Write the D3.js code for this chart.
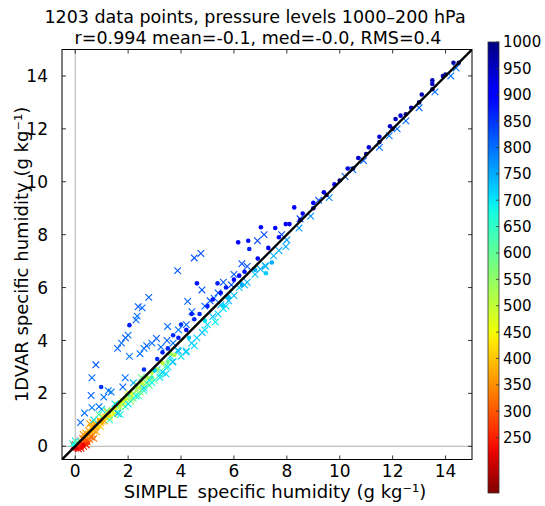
<!DOCTYPE html>
<html>
<head>
<meta charset="utf-8">
<script src="https://cdn.jsdelivr.net/npm/d3@7"></script>
<style>
	body { margin: 0; background: #fff; }
	svg text { font-family: 'DejaVu Sans', sans-serif; fill: #000; }
</style>
</head>
<body>
<svg id="chart"></svg>
<script>
// [SIMPLE q, 1DVAR q, pressure hPa]
const crossPoints = [
	// red, near zero
	[0.05, -0.05, 250], [0.1, 0.0, 230], [0.15, 0.05, 270], [0.2, 0.02, 300], [0.25, 0.1, 260],
	[0.3, 0.12, 280], [0.35, 0.15, 310], [0.4, 0.2, 290], [0.45, 0.18, 320], [0.5, 0.3, 300],
	[0.55, 0.25, 330], [0.6, 0.35, 310], [0.12, -0.1, 220], [0.22, -0.08, 240], [0.32, 0.0, 260],
	[0.0, 0.05, 210], [-0.05, 0.02, 230], [0.65, 0.45, 340], [0.7, 0.3, 320], [0.28, 0.3, 300],
	[0.18, 0.2, 280], [0.42, 0.05, 250], [-0.1, 0.1, 650], [0.0, 0.2, 700], [0.05, 0.15, 600],
	// orange
	[0.4, 0.5, 380], [0.5, 0.6, 360], [0.6, 0.7, 400], [0.7, 0.6, 380], [0.75, 0.85, 390],
	[0.85, 0.8, 410], [0.9, 1.0, 370], [1.0, 0.95, 400], [1.05, 1.1, 420], [1.15, 1.1, 390],
	[0.3, 0.45, 350], [0.55, 0.85, 360], [0.95, 0.75, 410], [1.2, 1.3, 400], [0.65, 0.9, 380],
	[0.8, 0.55, 370], [1.3, 1.2, 420], [0.45, 0.35, 350], [0.95, 0.9, 380], [1.1, 0.95, 360],
	[0.75, 0.7, 350], [1.4, 1.35, 430], [1.6, 1.55, 440],
	// yellow
	[1.3, 1.1, 470], [1.4, 1.3, 480], [1.5, 1.4, 500], [1.6, 1.5, 460], [1.7, 1.5, 520],
	[1.8, 1.7, 490], [1.9, 1.7, 510], [2.0, 1.9, 480], [2.1, 1.8, 530], [2.2, 2.0, 500],
	[2.3, 2.1, 540], [2.4, 2.2, 510], [2.5, 2.3, 520], [2.6, 2.3, 550], [1.45, 1.2, 460],
	[1.75, 1.6, 480], [2.05, 2.0, 470], [2.35, 2.3, 500], [2.7, 2.4, 540], [2.8, 2.6, 520],
	// green
	[1.6, 1.3, 620], [1.9, 1.5, 640], [2.2, 1.8, 600], [2.4, 1.9, 630], [2.6, 2.1, 650],
	[2.8, 2.3, 620], [3.0, 2.5, 600], [3.2, 2.7, 640], [1.2, 1.35, 600], [0.9, 1.2, 620],
	[2.5, 2.6, 590], [3.4, 3.0, 610], [2.1, 1.7, 580], [2.45, 2.05, 570], [2.75, 2.35, 590],
	// cyan, below the line
	[3.3, 2.8, 720], [3.5, 3.0, 700], [3.7, 3.2, 730], [3.6, 3.4, 710], [3.9, 3.6, 740],
	[4.2, 3.6, 720], [4.0, 3.4, 700], [4.4, 3.9, 730], [4.6, 4.1, 720], [4.8, 4.3, 740],
	[5.0, 4.6, 710], [5.2, 4.9, 730], [5.4, 5.0, 720], [5.6, 5.2, 700], [5.8, 5.5, 740],
	[6.0, 5.7, 730], [6.2, 6.0, 720], [6.5, 6.2, 740], [6.8, 6.5, 730], [7.2, 6.8, 750],
	[7.5, 7.2, 740], [7.96, 7.55, 750], [8.46, 8.25, 760], [4.9, 4.4, 700], [5.3, 4.7, 690],
	[2.8, 2.5, 700], [3.1, 2.9, 690], [4.5, 3.8, 710], [1.5, 1.6, 700], [1.0, 1.4, 720],
	[0.7, 1.0, 700], [2.2, 2.4, 740], [5.7, 5.3, 710], [1.61, 1.24, 760], [3.68, 3.18, 720],
	[3.43, 2.74, 710], [3.87, 3.62, 730], [4.19, 3.56, 720], [7.18, 6.83, 740],
	[1.7, 1.2, 680], [2.0, 1.6, 700], [2.3, 1.9, 690], [2.6, 2.2, 710], [2.9, 2.4, 680],
	[3.2, 2.6, 700], [1.3, 1.0, 650], [5.5, 5.35, 740], [6.4, 6.1, 730], [7.0, 6.7, 740],
	[7.7, 7.4, 750], [8.0, 7.8, 760], [8.9, 8.7, 770], [9.6, 9.4, 780],
	// blue, mostly above the line
	[0.35, 1.26, 800], [0.63, 1.46, 790], [0.6, 1.92, 810], [0.63, 2.59, 800], [0.78, 3.08, 820],
	[1.08, 1.86, 800], [1.36, 2.05, 790], [1.8, 2.24, 810], [1.89, 2.59, 800], [1.6, 3.7, 810],
	[1.75, 3.9, 800], [1.9, 4.1, 820], [2.0, 4.2, 800], [2.05, 3.4, 790], [2.3, 4.78, 810],
	[2.34, 4.92, 800], [2.38, 5.28, 820], [2.53, 5.23, 800], [2.78, 5.63, 810], [2.45, 3.5, 800],
	[2.6, 3.7, 790], [2.7, 3.8, 810], [2.9, 3.9, 800], [3.07, 4.08, 820], [3.24, 3.75, 800],
	[3.47, 4.0, 810], [3.49, 4.53, 800], [3.87, 6.64, 820], [4.5, 7.12, 830], [4.75, 7.29, 830],
	[4.25, 5.48, 810], [4.41, 5.09, 800], [4.79, 5.91, 820], [4.9, 5.3, 810], [5.1, 5.5, 820],
	[5.25, 5.6, 800], [5.4, 5.8, 820], [6.89, 7.77, 840], [7.14, 8.0, 830], [5.9, 6.1, 830],
	[6.5, 6.8, 820], [7.8, 8.0, 830], [8.5, 8.6, 840], [9.2, 9.3, 830], [10.2, 10.2, 820],
	[10.5, 10.45, 800], [10.9, 10.8, 810], [11.5, 11.3, 800], [11.87, 11.74, 790], [12.17, 12.0, 800],
	[12.5, 12.3, 800], [13.0, 12.8, 810], [13.6, 13.4, 800], [14.2, 14.0, 790], [14.4, 14.3, 800],
	[1.25, 2.1, 790], [0.9, 1.5, 800], [0.2, 0.9, 810], [3.7, 3.9, 800], [3.9, 4.4, 800],
	[4.2, 4.6, 810], [5.6, 6.2, 820], [6.0, 6.5, 810], [6.3, 6.9, 830]
];

const dotPoints = [
	[0.08, 0.0, 240], [0.18, 0.08, 260], [0.3, 0.05, 220], [0.38, 0.22, 300], [0.48, 0.12, 270],
	[0.02, -0.08, 210], [0.25, -0.05, 230], [-0.05, 0.05, 680],
	[0.35, 0.4, 370], [0.6, 0.55, 390], [0.8, 0.75, 400], [1.0, 0.9, 380], [1.1, 1.05, 410],
	[0.5, 0.5, 360], [1.25, 1.15, 420],
	[1.5, 1.45, 470], [1.7, 1.65, 490], [1.9, 1.8, 500], [2.1, 2.0, 480], [2.3, 2.25, 520],
	[2.5, 2.4, 500], [2.7, 2.6, 530], [2.9, 2.8, 510], [3.1, 2.9, 540], [3.6, 3.5, 530],
	[3.75, 3.45, 520], [3.3, 3.15, 500],
	[2.0, 1.95, 610], [2.9, 2.6, 630], [3.5, 3.2, 600],
	[3.0, 2.87, 720], [5.8, 5.63, 730], [6.8, 6.67, 740], [7.21, 6.54, 720], [7.43, 6.95, 750],
	[4.9, 4.75, 700], [4.3, 4.1, 720], [6.3, 6.1, 750], [5.6, 5.3, 710],
	[0.98, 2.24, 850], [2.05, 4.58, 870], [4.6, 6.16, 880], [5.38, 6.16, 870], [6.16, 7.71, 890],
	[6.54, 7.77, 880], [6.58, 7.46, 870], [7.02, 8.28, 900], [7.56, 8.25, 890], [8.28, 9.03, 900],
	[7.96, 8.4, 890], [3.5, 3.7, 860], [3.9, 4.1, 870], [4.2, 4.4, 880], [4.5, 4.8, 860],
	[5.0, 5.3, 870], [5.5, 5.8, 880], [6.0, 6.3, 890], [6.4, 6.6, 880], [6.9, 7.1, 900],
	[7.3, 7.5, 890], [7.7, 7.9, 910], [8.1, 8.4, 900], [8.6, 8.8, 920], [9.0, 9.2, 910],
	[9.4, 9.6, 930], [9.8, 9.9, 920], [10.3, 10.5, 930], [10.7, 10.9, 940], [11.1, 11.3, 930],
	[11.5, 11.7, 940], [11.9, 12.1, 950], [12.11, 12.37, 950], [12.3, 12.5, 940], [12.7, 12.8, 950],
	[13.1, 13.3, 960], [13.5, 13.84, 960], [13.5, 13.7, 950], [13.9, 14.0, 960], [14.3, 14.5, 970],
	[2.6, 2.9, 850], [3.1, 3.3, 860], [3.3, 3.55, 870], [4.7, 5.0, 860], [5.2, 5.55, 880],
	[5.7, 6.0, 870], [6.2, 6.45, 890], [3.7, 4.2, 860], [4.0, 4.6, 850], [4.4, 5.0, 870],
	[8.5, 8.55, 970], [9.0, 9.0, 980], [9.5, 9.5, 980], [10.0, 10.05, 990], [10.5, 10.5, 1000],
	[11.0, 11.05, 990], [11.5, 11.5, 980], [12.0, 12.0, 1000], [12.5, 12.55, 990], [13.0, 13.0, 1000],
	[13.5, 13.5, 990], [14.0, 14.05, 1000], [14.5, 14.5, 980]
];

const axisTicks = [0, 2, 4, 6, 8, 10, 12, 14];
const colorTicks = [250, 300, 350, 400, 450, 500, 550, 600, 650, 700, 750, 800, 850, 900, 950, 1000];
const titleLines = [
	'1203 data points, pressure levels 1000\u2013200 hPa',
	'r=0.994 mean=-0.1, med=-0.0, RMS=0.4'
];

const W = 545, H = 506;
const plot = { left: 62, right: 472, top: 49.5, bottom: 459.5 };
const cbar = { x: 488, w: 11, top: 42, bottom: 493 };

const svg = d3.select('#chart').attr('width', W).attr('height', H);

const x = d3.scaleLinear().domain([-0.5, 15]).range([plot.left, plot.right]);
const y = d3.scaleLinear().domain([-0.5, 15]).range([plot.bottom, plot.top]);

// matplotlib "jet" segment data
const jetR = d3.scaleLinear().domain([0, 0.35, 0.66, 0.89, 1]).range([0, 0, 1, 1, 0.5]).clamp(true);
const jetG = d3.scaleLinear().domain([0, 0.125, 0.375, 0.64, 0.91, 1]).range([0, 0, 1, 1, 0, 0]).clamp(true);
const jetB = d3.scaleLinear().domain([0, 0.11, 0.34, 0.65, 1]).range([0.5, 1, 1, 0, 0]).clamp(true);
const jet = (t) => d3.rgb(jetR(t) * 255, jetG(t) * 255, jetB(t) * 255).toString();

// reversed: high pressure blue, low pressure red
const pScale = d3.scaleLinear().domain([1000, 145]).range([0, 1]).clamp(true);
const pColor = (p) => jet(pScale(p));

// zero lines
svg.append('line')
	.attr('x1', x(0)).attr('x2', x(0)).attr('y1', plot.top).attr('y2', plot.bottom)
	.attr('stroke', '#b0b0b0').attr('stroke-width', 1);
svg.append('line')
	.attr('x1', plot.left).attr('x2', plot.right).attr('y1', y(0)).attr('y2', y(0))
	.attr('stroke', '#b0b0b0').attr('stroke-width', 1);

svg.append('clipPath').attr('id', 'plot-clip')
	.append('rect')
	.attr('x', plot.left).attr('y', plot.top)
	.attr('width', plot.right - plot.left).attr('height', plot.bottom - plot.top);

const marks = svg.append('g').attr('clip-path', 'url(#plot-clip)');

const cs = 3.3; // cross half size
marks.selectAll('.cross')
	.data(crossPoints)
	.join('path')
	.attr('class', 'cross')
	.attr('d', (d) => {
		const cx = x(d[0]), cy = y(d[1]);
		return `M${cx - cs},${cy - cs}L${cx + cs},${cy + cs}M${cx - cs},${cy + cs}L${cx + cs},${cy - cs}`;
	})
	.attr('fill', 'none')
	.attr('stroke', (d) => pColor(d[2]))
	.attr('stroke-width', 1.1);

marks.selectAll('.dot')
	.data(dotPoints)
	.join('circle')
	.attr('class', 'dot')
	.attr('cx', (d) => x(d[0]))
	.attr('cy', (d) => y(d[1]))
	.attr('r', 2.3)
	.attr('fill', (d) => pColor(d[2]));

// 1:1 line
marks.append('line')
	.attr('x1', x(-0.5)).attr('y1', y(-0.5))
	.attr('x2', x(15)).attr('y2', y(15))
	.attr('stroke', '#000').attr('stroke-width', 2.3);

// frame
svg.append('rect')
	.attr('x', plot.left).attr('y', plot.top)
	.attr('width', plot.right - plot.left).attr('height', plot.bottom - plot.top)
	.attr('fill', 'none').attr('stroke', '#000').attr('stroke-width', 1);

// inward ticks on all four sides
const tickG = svg.append('g').attr('stroke', '#000').attr('stroke-width', 0.8);
axisTicks.forEach((t) => {
	tickG.append('line').attr('x1', x(t)).attr('x2', x(t)).attr('y1', plot.bottom).attr('y2', plot.bottom - 4);
	tickG.append('line').attr('x1', x(t)).attr('x2', x(t)).attr('y1', plot.top).attr('y2', plot.top + 4);
	tickG.append('line').attr('y1', y(t)).attr('y2', y(t)).attr('x1', plot.left).attr('x2', plot.left + 4);
	tickG.append('line').attr('y1', y(t)).attr('y2', y(t)).attr('x1', plot.right).attr('x2', plot.right - 4);
});

svg.append('g').selectAll('text')
	.data(axisTicks)
	.join('text')
	.attr('x', (d) => x(d))
	.attr('y', 477)
	.attr('text-anchor', 'middle')
	.style('font-size', '17px')
	.text((d) => d);

svg.append('g').selectAll('text')
	.data(axisTicks)
	.join('text')
	.attr('x', 48)
	.attr('y', (d) => y(d))
	.attr('dy', '0.36em')
	.attr('text-anchor', 'end')
	.style('font-size', '17px')
	.text((d) => d);

// axis labels
svg.append('text')
	.attr('x', 275)
	.attr('y', 498)
	.attr('text-anchor', 'middle')
	.style('font-size', '18px')
	.text('SIMPLE\u2009 specific humidity (g kg\u207B\u00B9)');

svg.append('text')
	.attr('transform', `translate(28,${(plot.top + plot.bottom) / 2}) rotate(-90)`)
	.attr('text-anchor', 'middle')
	.style('font-size', '18px')
	.text('1DVAR specific humidity (g kg\u207B\u00B9)');

// title
svg.append('text')
	.attr('x', 255).attr('y', 23)
	.attr('text-anchor', 'middle')
	.style('font-size', '17.5px')
	.text(titleLines[0]);
svg.append('text')
	.attr('x', 258).attr('y', 44)
	.attr('text-anchor', 'middle')
	.style('font-size', '17.5px')
	.text(titleLines[1]);

// colorbar
const cbY = d3.scaleLinear().domain([145, 1000]).range([cbar.bottom, cbar.top]);
const grad = svg.append('defs').append('linearGradient')
	.attr('id', 'jet-grad')
	.attr('x1', 0).attr('y1', 1).attr('x2', 0).attr('y2', 0);
d3.range(0, 1.0001, 0.02).forEach((s) => {
	const p = 145 + s * (1000 - 145);
	grad.append('stop').attr('offset', s).attr('stop-color', pColor(p));
});
svg.append('rect')
	.attr('x', cbar.x).attr('y', cbar.top)
	.attr('width', cbar.w).attr('height', cbar.bottom - cbar.top)
	.attr('fill', 'url(#jet-grad)')
	.attr('stroke', '#333').attr('stroke-width', 0.8);

const cbTickG = svg.append('g').attr('stroke', '#333').attr('stroke-width', 0.8);
colorTicks.forEach((t) => {
	cbTickG.append('line')
		.attr('x1', cbar.x + cbar.w).attr('x2', cbar.x + cbar.w - 3)
		.attr('y1', cbY(t)).attr('y2', cbY(t));
});

svg.append('g').selectAll('text')
	.data(colorTicks)
	.join('text')
	.attr('x', 503)
	.attr('y', (d) => cbY(d))
	.attr('dy', '0.36em')
	.style('font-size', '15px')
	.text((d) => d);
</script>
</body>
</html>
